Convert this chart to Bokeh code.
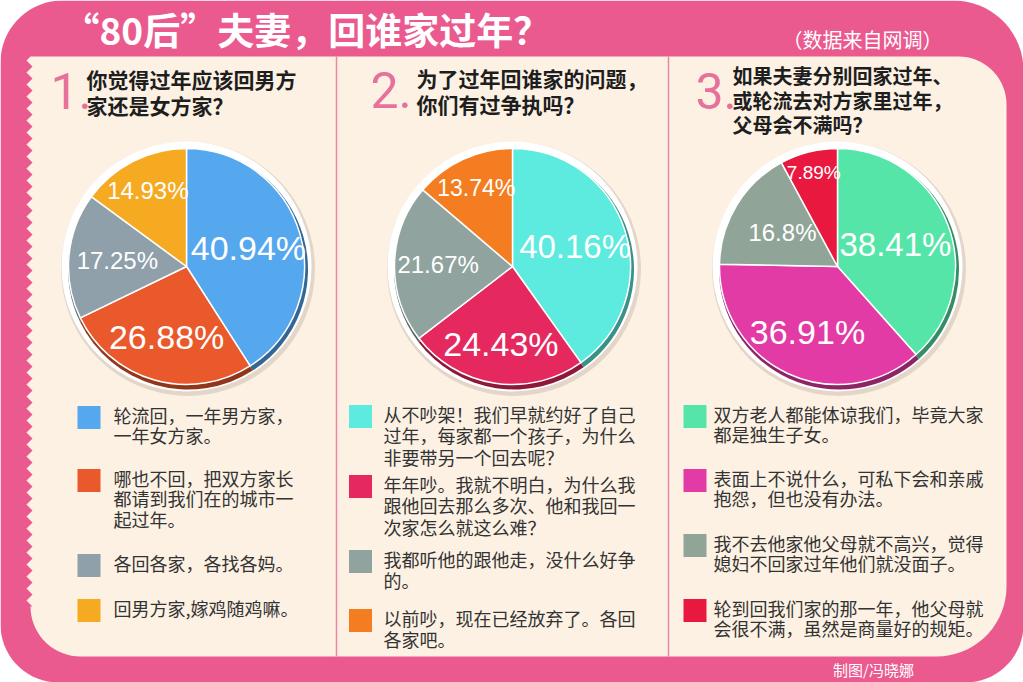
import numpy as np
from bokeh.plotting import figure
from bokeh.models import Range1d, ColumnDataSource
from bokeh.core.properties import value
from bokeh.embed import file_html
from bokeh.resources import INLINE

# ---------------- data ----------------
title = "“80后”夫妻，回谁家过年？"
source_note = "（数据来自网调）"
credit = "制图/冯晓娜"

q_numbers = ["1.", "2.", "3."]
q1_lines = ["你觉得过年应该回男方", "家还是女方家？"]
q2_lines = ["为了过年回谁家的问题，", "你们有过争执吗？"]
q3_lines = ["如果夫妻分别回家过年、", "或轮流去对方家里过年，", "父母会不满吗？"]

pie1_values = [40.94, 26.88, 17.25, 14.93]
pie2_values = [40.16, 24.43, 21.67, 13.74]
pie3_values = [38.41, 36.91, 16.8, 7.89]

pie1_colors = ["#55A7EE", "#E9592C", "#8FA0AB", "#F5AA22"]
pie2_colors = ["#5DEADF", "#E5295F", "#90A39E", "#F37D20"]
pie3_colors = ["#56E5A8", "#E23BA6", "#91A498", "#E9183F"]

pie1_legend = [["轮流回，一年男方家，", "一年女方家。"],
               ["哪也不回，把双方家长", "都请到我们在的城市一", "起过年。"],
               ["各回各家，各找各妈。"],
               ["回男方家,嫁鸡随鸡嘛。"]]
pie2_legend = [["从不吵架！我们早就约好了自己", "过年，每家都一个孩子，为什么", "非要带另一个回去呢？"],
               ["年年吵。我就不明白，为什么我", "跟他回去那么多次、他和我回一", "次家怎么就这么难？"],
               ["我都听他的跟他走，没什么好争", "的。"],
               ["以前吵，现在已经放弃了。各回", "各家吧。"]]
pie3_legend = [["双方老人都能体谅我们，毕竟大家", "都是独生子女。"],
               ["表面上不说什么，可私下会和亲戚", "抱怨，但也没有办法。"],
               ["我不去他家他父母就不高兴，觉得", "媳妇不回家过年他们就没面子。"],
               ["轮到回我们家的那一年，他父母就", "会很不满，虽然是商量好的规矩。"]]

# ---------------- style / layout ----------------
W, H = 1023, 682
PINK = "#EA5A8F"
CREAM = "#FCF1E3"
DIVIDER = "#E88AA6"
NUM_PINK = "#E6729C"
CJK = value("Noto Sans CJK SC")
LATIN = value("Liberation Sans")


def Y(y):
    return H - y


def darken(hexc, f):
    hexc = hexc.lstrip("#")
    r, g, b = (int(hexc[i:i + 2], 16) for i in (0, 2, 4))
    return "#%02x%02x%02x" % (int(r * f), int(g * f), int(b * f))


def arc(cx, cy, r, a0, a1, n=18):
    t = np.radians(np.linspace(a0, a1, n))
    return list(cx + r * np.cos(t)), list(cy + r * np.sin(t))


def rounded_rect(x0, y0, x1, y1, tl, tr, br, bl):
    xs, ys = [], []
    for (cx, cy, r, a0, a1) in [(x0 + tl, y0 + tl, tl, 180, 270),
                                (x1 - tr, y0 + tr, tr, 270, 360),
                                (x1 - br, y1 - br, br, 0, 90),
                                (x0 + bl, y1 - bl, bl, 90, 180)]:
        ax, ay = arc(cx, cy, r, a0, a1)
        xs += ax
        ys += ay
    return xs, [Y(v) for v in ys]


p = figure(width=W, height=H, x_range=Range1d(0, W), y_range=Range1d(0, H),
           x_axis_type=None, y_axis_type=None, toolbar_location=None,
           output_backend="svg", min_border=0, outline_line_color=None,
           background_fill_color="white", border_fill_color="white")

# outer pink frame
ox, oy = rounded_rect(0, 0, 1023, 682, 62, 70, 58, 58)
p.patch(ox, oy, fill_color=PINK, line_color=None)

# cream panel with zig-zag left edge
x0, y0, x1, y1 = 30, 56, 1006, 656
tr, br, bl = 48, 70, 50
cx_, cy_ = [x0], [y0]
ax, ay = arc(x1 - tr, y0 + tr, tr, 270, 360); cx_ += ax; cy_ += ay
ax, ay = arc(x1 - br, y1 - br, br, 0, 90); cx_ += ax; cy_ += ay
ax, ay = arc(x0 + bl, y1 - bl, bl, 90, 180); cx_ += ax; cy_ += ay
zy = np.arange(y1 - bl, y0, -6.0)
for i, yy in enumerate(zy):
    cx_.append(x0 - 4 if i % 2 else x0 + 2)
    cy_.append(yy)
p.patch(cx_, [Y(v) for v in cy_], fill_color=CREAM, line_color=None)

# column dividers
for xd in (336, 668):
    p.line([xd, xd], [Y(y0), Y(y1)], line_color=DIVIDER, line_width=1.5)

# title texts
p.text([62], [Y(28)], text=[title], text_font=CJK, text_font_size="37px",
       text_font_style="bold", text_color="white", text_baseline="middle",
       text_align="left")
p.text([862], [Y(39)], text=[source_note], text_font=CJK, text_font_size="20px",
       text_color="white", text_baseline="middle", text_align="center")
p.text([873], [Y(669)], text=[credit], text_font=CJK, text_font_size="15px",
       text_color="white", text_baseline="middle", text_align="center")

panels = [
    dict(values=pie1_values, colors=pie1_colors, legend=pie1_legend, q=q1_lines,
         center=(186, 266), num_xy=(50, 90), q_xy=(86, 78), q_step=26, q_size="21px",
         label_r=[0.52, 0.59, 0.56, 0.69], label_size=["34px", "34px", "24px", "24px"],
         sq_x=88.5, tx=113, leg_y=[414, 477, 562, 607], leg_step=20.5),
    dict(values=pie2_values, colors=pie2_colors, legend=pie2_legend, q=q2_lines,
         center=(512, 266), num_xy=(370, 89), q_xy=(416, 77), q_step=26, q_size="21px",
         label_r=[0.53, 0.63, 0.60, 0.70], label_size=["33px", "34px", "24px", "23px"],
         sq_x=360, tx=383, leg_y=[413, 483, 558, 617], leg_step=21.5),
    dict(values=pie3_values, colors=pie3_colors, legend=pie3_legend, q=q3_lines,
         center=(837, 266), num_xy=(695, 90), q_xy=(732, 75), q_step=24.5, q_size="20px",
         label_r=[0.50, 0.58, 0.52, 0.78], label_size=["33px", "34px", "24px", "19px"],
         sq_x=694.5, tx=713, leg_y=[413, 477, 542, 607], leg_step=20),
]

R_RING = 125
R_PIE = 120

for k, pan in enumerate(panels):
    cx, cyr = pan["center"]
    cy = Y(cyr)
    vals = np.array(pan["values"], dtype=float)
    frac = vals / vals.sum()
    cum = np.concatenate([[0], np.cumsum(frac)])
    start = np.pi / 2 - cum[:-1] * 2 * np.pi
    end = np.pi / 2 - cum[1:] * 2 * np.pi
    mid = (start + end) / 2

    # shadow + white ring
    p.circle([cx + 1.5], [cy - 2.5], radius=R_RING + 2, fill_color="#DCCFC2",
             fill_alpha=0.8, line_color=None)
    p.circle([cx], [cy], radius=R_RING, fill_color="white", line_color=None)

    # bevel (darker lower edge of each slice)
    dark = ColumnDataSource(dict(x=[cx + 1.5] * 4, y=[cy - 3] * 4, s=start, e=end,
                                 c=[darken(c, 0.62) for c in pan["colors"]]))
    p.wedge(x="x", y="y", radius=R_PIE, start_angle="s", end_angle="e",
            direction="clock", fill_color="c", line_color=None, source=dark)
    src = ColumnDataSource(dict(x=[cx] * 4, y=[cy] * 4, s=start, e=end,
                                c=pan["colors"]))
    p.wedge(x="x", y="y", radius=R_PIE - 2, start_angle="s", end_angle="e",
            direction="clock", fill_color="c", line_color="white", line_width=1.5,
            source=src)

    # percentage labels
    lr = np.array(pan["label_r"]) * 124
    lab = ColumnDataSource(dict(x=cx + lr * np.cos(mid), y=cy + lr * np.sin(mid),
                                t=["%g%%" % v for v in pan["values"]],
                                fs=pan["label_size"]))
    p.text(x="x", y="y", text="t", text_font_size="fs", text_font=LATIN,
           text_color="white", text_align="center", text_baseline="middle", source=lab)

    # question number and text
    nx, ny = pan["num_xy"]
    p.text([nx], [Y(ny)], text=[q_numbers[k]], text_font=value("Roboto"),
           text_font_size="50px", text_color=NUM_PINK, text_baseline="middle",
           text_align="left")
    qx, qy = pan["q_xy"]
    p.text([qx] * len(pan["q"]), [Y(qy + i * pan["q_step"]) for i in range(len(pan["q"]))],
           text=pan["q"], text_font=CJK, text_font_size=pan["q_size"],
           text_font_style="bold", text_color="#1E1E1E", text_baseline="middle",
           text_align="left")

    # legend
    sq_y = [Y(v + 3) for v in pan["leg_y"]]
    p.rect([pan["sq_x"]] * 4, sq_y, width=23, height=23, fill_color=pan["colors"],
           line_color=None)
    lx, ly, lt = [], [], []
    for item, y_first in zip(pan["legend"], pan["leg_y"]):
        for j, line in enumerate(item):
            lx.append(pan["tx"])
            ly.append(Y(y_first + j * pan["leg_step"]))
            lt.append(line)
    p.text(lx, ly, text=lt, text_font=CJK, text_font_size="18px", text_color="#333333",
           text_baseline="middle", text_align="left")

open("out.html", "w").write(file_html(p, INLINE))
